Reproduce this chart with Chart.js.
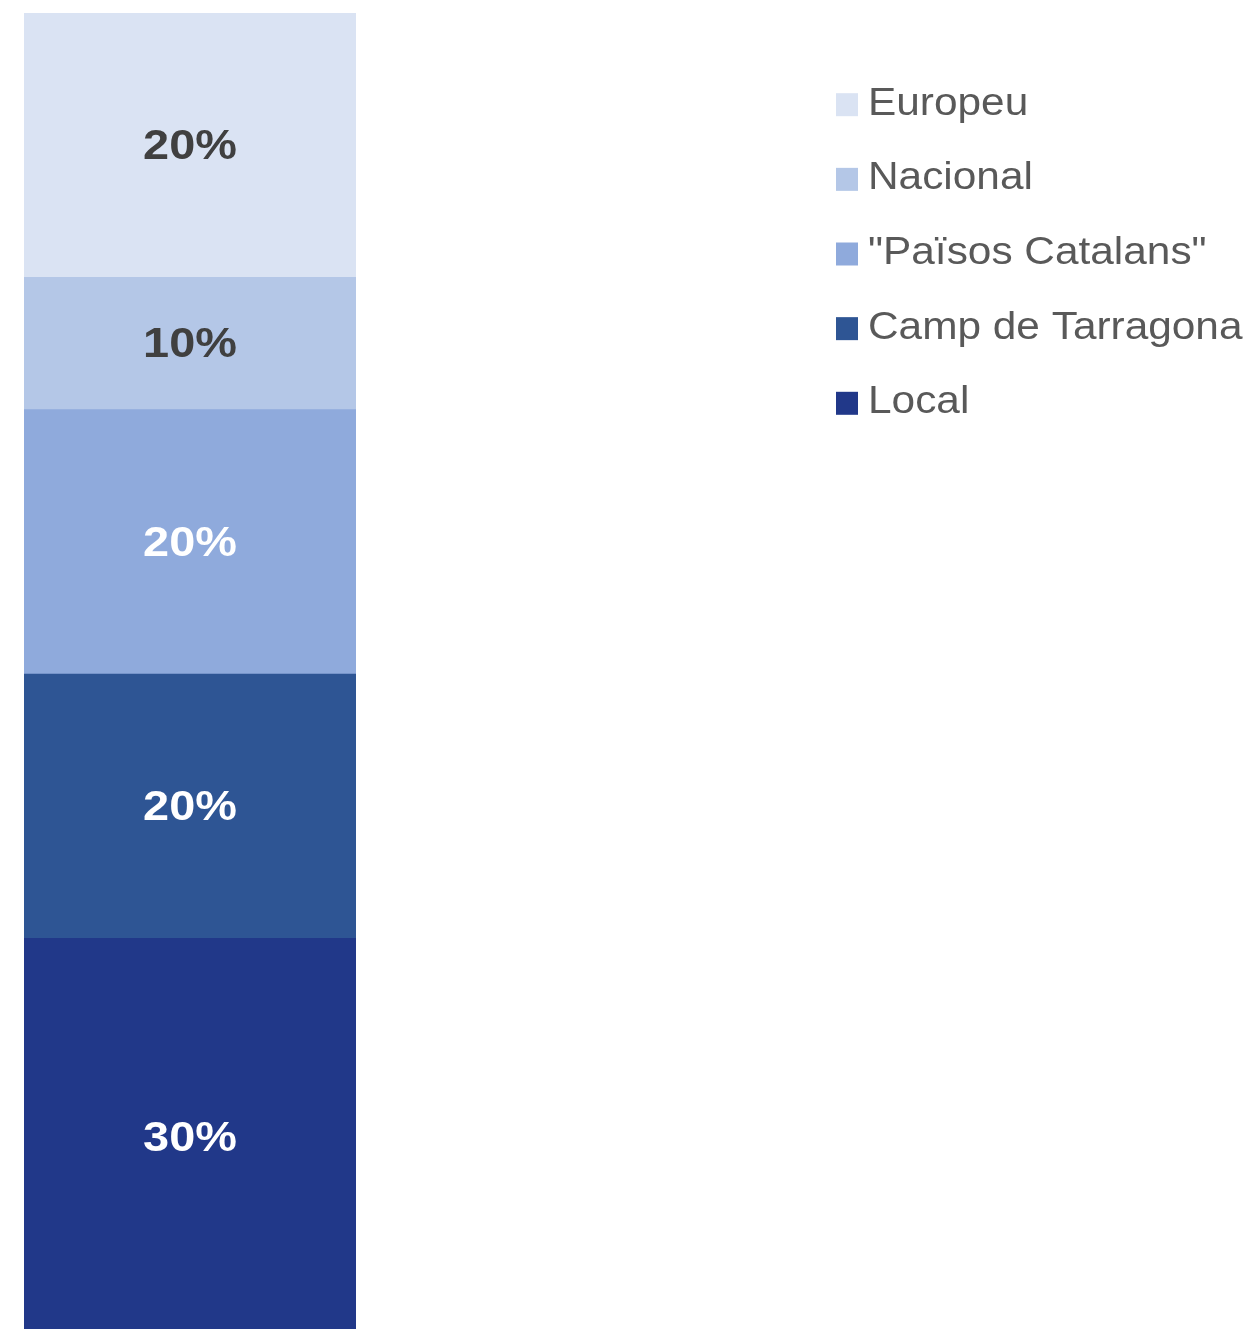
<!DOCTYPE html>
<html>
<head>
<meta charset="utf-8">
<script src="https://cdn.jsdelivr.net/npm/chart.js@4/dist/chart.umd.min.js"></script>
<style>
  html, body { margin: 0; padding: 0; background: #fff; overflow: hidden; }
  #wrap { width: 1257px; height: 1335px; }
</style>
</head>
<body>
<div id="wrap"><canvas id="myChart" width="1257" height="1335"></canvas></div>
<script>
// one stacked column, bottom to top
let categories = ['']
let seriesNames = ['Local', 'Camp de Tarragona', '"Països Catalans"', 'Nacional', 'Europeu']
let seriesValues = [[30], [20], [20], [10], [20]]
let seriesColors = ['#213889', '#2E5594', '#8FAADC', '#B4C7E7', '#DAE3F3']
let labelColors = ['#FFFFFF', '#FFFFFF', '#FFFFFF', '#404040', '#404040']

// percentage labels in the middle of each segment
let segmentLabels = {
    id: 'segmentLabels',
    afterDatasetsDraw(chart) {
        const ctx = chart.ctx
        ctx.save()
        ctx.font = 'bold 43px "Liberation Sans", Arial, sans-serif'
        ctx.textAlign = 'center'
        ctx.textBaseline = 'middle'
        chart.data.datasets.forEach((ds, i) => {
            chart.getDatasetMeta(i).data.forEach((bar, j) => {
                const p = bar.getProps(['x', 'y', 'base'], true)
                const cy = (p.y + p.base) / 2
                ctx.save()
                ctx.translate(p.x, cy)
                ctx.scale(1.09, 1)
                ctx.fillStyle = labelColors[i]
                ctx.fillText(ds.data[j] + '%', 0, 2)
                ctx.restore()
            })
        })
        ctx.restore()
    }
}

// legend on the right, top entry = top segment
let sideLegend = {
    id: 'sideLegend',
    afterDraw(chart) {
        const ctx = chart.ctx
        const sets = chart.data.datasets.slice().reverse()
        ctx.save()
        ctx.font = '38px "Liberation Sans", Arial, sans-serif'
        ctx.textBaseline = 'alphabetic'
        sets.forEach((ds, k) => {
            const cy = 104.7 + k * 74.65
            ctx.fillStyle = ds.backgroundColor
            ctx.fillRect(836, cy - 11.5, 22, 23)
            ctx.save()
            ctx.translate(868, cy + 10)
            ctx.scale(1.115, 1)
            ctx.fillStyle = '#595959'
            ctx.fillText(ds.label, 0, 0)
            ctx.restore()
        })
        ctx.restore()
    }
}

const ctx = document.getElementById('myChart')

const config = {
    type: 'bar',
    data: {
        labels: categories,
        datasets: seriesNames.map((name, i) => ({
            label: name,
            data: seriesValues[i],
            backgroundColor: seriesColors[i],
            borderWidth: 0,
            categoryPercentage: 1,
            barPercentage: 1
        }))
    },
    options: {
        responsive: false,
        animation: false,
        layout: { padding: { left: 24, right: 901, top: 13, bottom: 0 } },
        plugins: {
            legend: { display: false },
            tooltip: { enabled: false }
        },
        scales: {
            x: { stacked: true, display: false },
            y: { stacked: true, display: false, min: 0, max: 100 }
        }
    },
    plugins: [segmentLabels, sideLegend]
}

const chart = new Chart(ctx, config)
</script>
</body>
</html>
